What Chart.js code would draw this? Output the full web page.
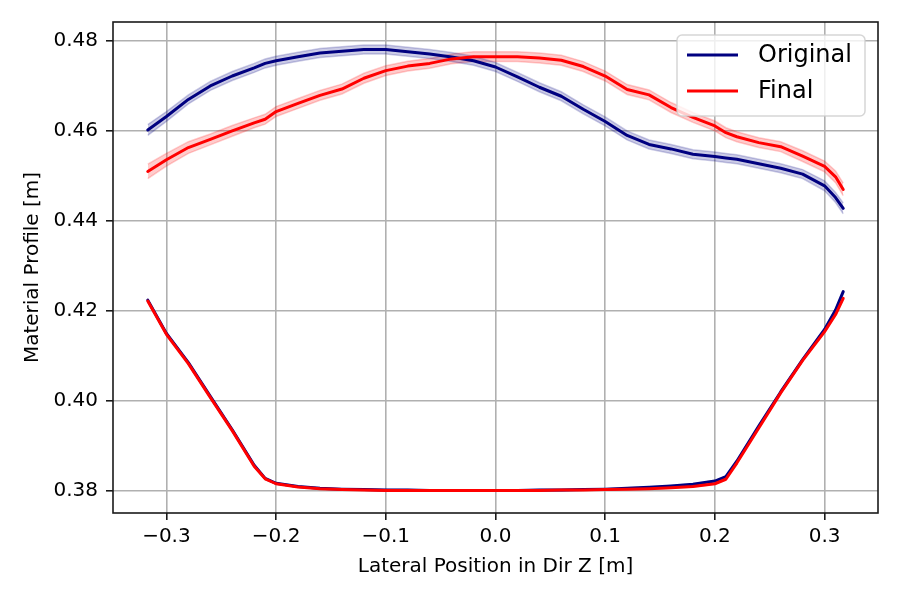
<!DOCTYPE html>
<html>
<head>
<meta charset="utf-8">
<script src="https://cdn.jsdelivr.net/npm/chart.js@4.4.1/dist/chart.umd.min.js"></script>
<style>
  html, body { margin: 0; padding: 0; background: #fff; }
  #wrap { width: 900px; height: 600px; position: relative; }
</style>
</head>
<body>
<div id="wrap"><canvas id="chart"></canvas></div>
<script>
// lateral positions [m]
const xs = [-0.317, -0.30, -0.28, -0.26, -0.24, -0.22, -0.21, -0.20, -0.18, -0.16, -0.14, -0.12,
            -0.10, -0.08, -0.06, -0.04, -0.02, 0.00, 0.02, 0.04, 0.06, 0.08, 0.10, 0.12,
            0.14, 0.16, 0.18, 0.20, 0.21, 0.22, 0.24, 0.26, 0.28, 0.30, 0.31, 0.317];

// upper profiles
const origTop = [0.4602, 0.4632, 0.4670, 0.4700, 0.4722, 0.4740, 0.4750, 0.4756, 0.4765, 0.4773, 0.4777, 0.4781,
                 0.4781, 0.4776, 0.4771, 0.4764, 0.4756, 0.4742, 0.4720, 0.4697, 0.4677, 0.4648, 0.4621, 0.4590,
                 0.4570, 0.4560, 0.4548, 0.4543, 0.4540, 0.4537, 0.4527, 0.4517, 0.4504, 0.4478, 0.4452, 0.4428];
const finalTop = [0.4510, 0.4536, 0.4563, 0.4581, 0.4600, 0.4618, 0.4626, 0.4643, 0.4661, 0.4679, 0.4693, 0.4717,
                  0.4734, 0.4744, 0.4750, 0.4760, 0.4765, 0.4765, 0.4765, 0.4762, 0.4757, 0.4743, 0.4722, 0.4692,
                  0.4680, 0.4652, 0.4630, 0.4611, 0.4596, 0.4587, 0.4574, 0.4565, 0.4544, 0.4521, 0.4498, 0.4470];

// lower profiles
const origBottom = [0.4224, 0.4150, 0.4085, 0.4010, 0.3936, 0.3857, 0.3828, 0.3817, 0.3810, 0.3806, 0.3804, 0.3803,
                    0.3802, 0.3802, 0.3801, 0.3801, 0.3801, 0.3801, 0.3801, 0.3802, 0.3802, 0.3803, 0.3804, 0.3806,
                    0.3808, 0.3811, 0.3815, 0.3822, 0.3832, 0.3866, 0.3944, 0.4020, 0.4092, 0.4159, 0.4202, 0.4243];
const finalBottom = [0.4222, 0.4148, 0.4083, 0.4008, 0.3934, 0.3855, 0.3827, 0.3816, 0.3809, 0.3805, 0.3803, 0.3802,
                     0.3801, 0.3801, 0.3801, 0.3801, 0.3801, 0.3801, 0.3801, 0.3801, 0.3802, 0.3802, 0.3803, 0.3804,
                     0.3805, 0.3807, 0.3810, 0.3816, 0.3826, 0.3862, 0.3940, 0.4018, 0.4090, 0.4154, 0.4192, 0.4228];

// spread (half width of shaded band)
const sdOrigTop = [0.0012, 0.0011, 0.0010, 0.0010, 0.0010, 0.0010, 0.0010, 0.0010, 0.0010, 0.0010, 0.0010, 0.0010,
                   0.0010, 0.0010, 0.0010, 0.0010, 0.0010, 0.0010, 0.0010, 0.0010, 0.0010, 0.0010, 0.0010, 0.0010,
                   0.0010, 0.0010, 0.0010, 0.0010, 0.0010, 0.0010, 0.0010, 0.0010, 0.0010, 0.0011, 0.0011, 0.0012];
const sdFinalTop = [0.0016, 0.0014, 0.0013, 0.0012, 0.0012, 0.0011, 0.0011, 0.0011, 0.0011, 0.0011, 0.0011, 0.0011,
                    0.0011, 0.0011, 0.0011, 0.0011, 0.0011, 0.0011, 0.0011, 0.0011, 0.0011, 0.0011, 0.0011, 0.0011,
                    0.0011, 0.0011, 0.0011, 0.0011, 0.0011, 0.0011, 0.0011, 0.0011, 0.0012, 0.0012, 0.0013, 0.0014];
const sdBottom = [0.0002, 0.0002, 0.0002, 0.0002, 0.0002, 0.0002, 0.0001, 0.0001, 0.0001, 0.0001, 0.0001, 0.0001,
                  0.0001, 0.0001, 0.0001, 0.0001, 0.0001, 0.0001, 0.0001, 0.0001, 0.0001, 0.0001, 0.0001, 0.0001,
                  0.0001, 0.0001, 0.0001, 0.0001, 0.0001, 0.0002, 0.0002, 0.0002, 0.0002, 0.0002, 0.0002, 0.0002];

const xTicks = [-0.3, -0.2, -0.1, 0.0, 0.1, 0.2, 0.3];
const yTicks = [0.38, 0.40, 0.42, 0.44, 0.46, 0.48];
const seriesNames = ['Original', 'Final'];

const NAVY = '#000080';
const RED = '#ff0000';
const FONT = 'DejaVu Sans';

function pts(vals, off, sign) {
    return xs.map((x, i) => ({ x: x, y: vals[i] + (off ? sign * off[i] : 0) }));
}

function band(vals, sd, color, fillColor) {
    return [
        { data: pts(vals, sd, -1), borderColor: color, borderWidth: 1.5, pointRadius: 0, fill: false, order: 5 },
        { data: pts(vals, sd, 1), borderColor: color, borderWidth: 1.5, pointRadius: 0, fill: '-1', backgroundColor: fillColor, order: 5 }
    ];
}

function line(vals, color, ord) {
    return { data: pts(vals), borderColor: color, borderWidth: 3, pointRadius: 0, fill: false,
             borderJoinStyle: 'round', borderCapStyle: 'round', order: ord };
}

const datasets = [
    ...band(origTop, sdOrigTop, 'rgba(0,0,128,0.2)', 'rgba(0,0,128,0.2)'),
    ...band(origBottom, sdBottom, 'rgba(0,0,128,0.2)', 'rgba(0,0,128,0.2)'),
    line(origTop, NAVY, 2),
    line(origBottom, NAVY, 2),
    ...band(finalTop, sdFinalTop, 'rgba(255,0,0,0.2)', 'rgba(255,0,0,0.2)'),
    ...band(finalBottom, sdBottom, 'rgba(255,0,0,0.2)', 'rgba(255,0,0,0.2)'),
    line(finalTop, RED, 0),
    line(finalBottom, RED, 0)
];

// frame on all four sides + legend inside the axes
const frameAndLegend = {
    id: 'frameAndLegend',
    afterDraw(chart) {
        const { ctx, chartArea: a } = chart;
        ctx.save();
        ctx.strokeStyle = '#1a1a1a';
        ctx.lineWidth = 1.6;
        ctx.strokeRect(a.left, a.top, a.right - a.left, a.bottom - a.top);

        const bx = 677, by = 35, bw = 188, bh = 81, r = 5;
        ctx.beginPath();
        ctx.roundRect(bx, by, bw, bh, r);
        ctx.fillStyle = 'rgba(255,255,255,0.8)';
        ctx.fill();
        ctx.strokeStyle = 'rgba(204,204,204,0.8)';
        ctx.lineWidth = 1.5;
        ctx.stroke();

        const colors = [NAVY, RED];
        const rows = [55, 91];
        ctx.font = '24px "' + FONT + '"';
        ctx.textBaseline = 'middle';
        ctx.textAlign = 'left';
        seriesNames.forEach((name, i) => {
            ctx.beginPath();
            ctx.moveTo(687, rows[i]);
            ctx.lineTo(738, rows[i]);
            ctx.strokeStyle = colors[i];
            ctx.lineWidth = 3;
            ctx.stroke();
            ctx.fillStyle = '#000';
            ctx.fillText(name, 758, rows[i] + 1);
        });
        ctx.restore();
    }
};

new Chart(document.getElementById('chart'), {
    type: 'line',
    data: { datasets: datasets },
    plugins: [frameAndLegend],
    options: {
        responsive: true,
        maintainAspectRatio: false,
        animation: false,
        layout: { padding: { top: 22, right: 22, left: 0, bottom: 0 } },
        plugins: {
            legend: { display: false },
            tooltip: { enabled: false },
            filler: { propagate: false }
        },
        scales: {
            x: {
                type: 'linear',
                min: -0.3487,
                max: 0.3487,
                afterFit: s => { s.height = 87; },
                afterBuildTicks: s => { s.ticks = xTicks.map(v => ({ value: v })); },
                grid: { color: '#b0b0b0', lineWidth: 1.6, tickColor: '#1a1a1a', tickLength: 7, tickWidth: 1.6 },
                border: { display: false },
                ticks: {
                    color: '#000', padding: 5, maxRotation: 0,
                    font: { family: FONT, size: 20 },
                    callback: v => v.toFixed(1).replace('-', '\u2212')
                },
                title: {
                    display: true, text: 'Lateral Position in Dir Z [m]', color: '#000',
                    font: { family: FONT, size: 20 }, padding: { top: 0, bottom: 21 }
                }
            },
            y: {
                type: 'linear',
                min: 0.3751,
                max: 0.4842,
                afterFit: s => { s.width = 113; },
                afterBuildTicks: s => { s.ticks = yTicks.map(v => ({ value: v })); },
                grid: { color: '#b0b0b0', lineWidth: 1.6, tickColor: '#1a1a1a', tickLength: 7, tickWidth: 1.6 },
                border: { display: false },
                ticks: {
                    color: '#000', padding: 8,
                    font: { family: FONT, size: 20 },
                    callback: v => v.toFixed(2)
                },
                title: {
                    display: true, text: 'Material Profile [m]', color: '#000',
                    font: { family: FONT, size: 20 }, padding: { top: 21, bottom: 0 }
                }
            }
        }
    }
});
</script>
</body>
</html>
